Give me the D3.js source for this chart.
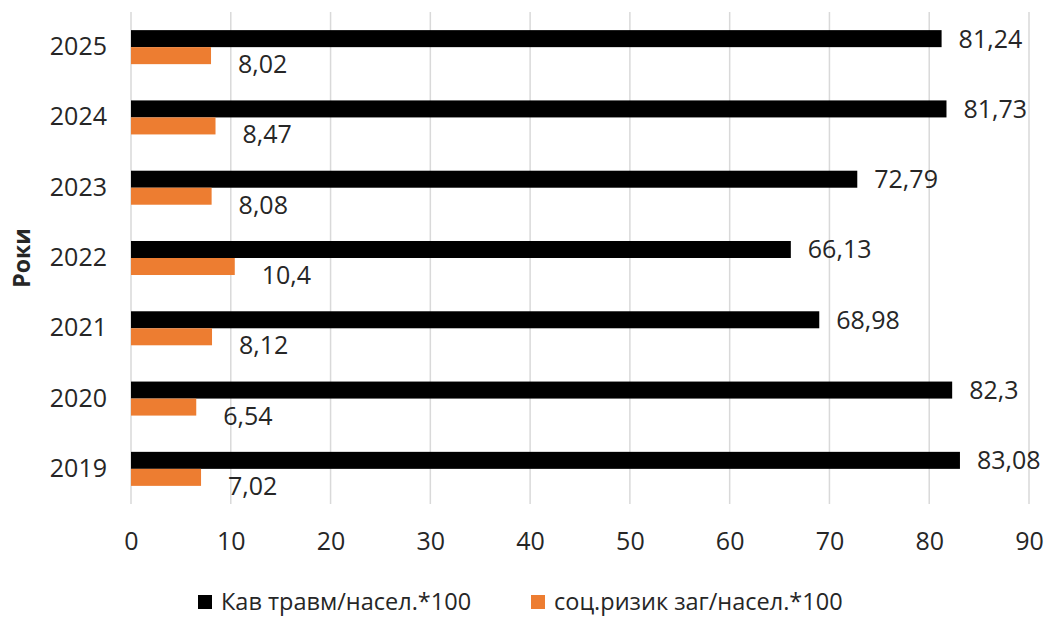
<!DOCTYPE html>
<html><head><meta charset="utf-8">
<script src="https://cdn.jsdelivr.net/npm/d3@7"></script>
<style>body{margin:0;background:#fff}svg{display:block}text{font-family:"Open Sans",sans-serif;fill:#262626}</style>
</head><body>
<svg id="c" width="1054" height="617"></svg>
<script>
const years = ["2025","2024","2023","2022","2021","2020","2019"];
const injuryValues = [81.24, 81.73, 72.79, 66.13, 68.98, 82.3, 83.08];
const riskValues = [8.02, 8.47, 8.08, 10.4, 8.12, 6.54, 7.02];
const seriesNames = ["Кав травм/насел.*100", "соц.ризик заг/насел.*100"];
const seriesColors = ["#000000", "#ED7D31"];
const xTicks = [0,10,20,30,40,50,60,70,80,90];
const yTitle = "Роки";

const svg = d3.select("#c");
const x = d3.scaleLinear().domain([0,90]).range([131,1029]);
const y = d3.scaleBand().domain(years).range([12,504]).padding(0);
const barH = y.bandwidth()*0.242;
const fmt = v => String(v).replace(".", ",");

// gridlines
svg.append("g").selectAll("line").data(xTicks).join("line")
  .attr("x1", d=>x(d)).attr("x2", d=>x(d)).attr("y1", 12).attr("y2", 504)
  .attr("stroke", "#d9d9d9").attr("stroke-width", 1.5);

// x axis labels
const xAxis = d3.axisBottom(x).tickValues(xTicks).tickSize(0).tickPadding(0);
const gx = svg.append("g").attr("transform","translate(0,532)").call(xAxis);
gx.select(".domain").remove();
gx.selectAll("text").attr("font-size", 25).attr("font-family","Open Sans").attr("fill","#262626").attr("dy","0.71em");

// y axis labels
const yAxis = d3.axisLeft(y).tickSize(0).tickPadding(0);
const gy = svg.append("g").attr("transform","translate(107,0)").call(yAxis);
gy.select(".domain").remove();
gy.selectAll("text").attr("font-size", 25).attr("font-family","Open Sans").attr("fill","#262626");

const series = [injuryValues, riskValues];
series.forEach((vals, si) => {
  const g = svg.append("g");
  g.selectAll("rect").data(years).join("rect")
    .attr("x", x(0))
    .attr("y", (d) => y(d) + y.bandwidth()/2 - barH + si*barH)
    .attr("width", (d,i) => x(vals[i]) - x(0))
    .attr("height", barH)
    .attr("fill", seriesColors[si]);
  g.selectAll("text").data(years).join("text")
    .attr("x", (d,i) => x(vals[i]) + (si===0 ? 17 : 27))
    .attr("y", (d) => si===0 ? y(d) + y.bandwidth()/2 - barH/2 : y(d) + y.bandwidth()/2 + barH)
    .attr("dy", "0.36em")
    .attr("font-size", 25)
    .text((d,i) => fmt(vals[i]));
});

// y title
svg.append("text").attr("transform","translate(22,258) rotate(-90)")
  .attr("text-anchor","middle").attr("dy","0.36em")
  .attr("font-size", 23).attr("font-weight","bold").text(yTitle);

// legend
const legendX = [198, 531];
seriesNames.forEach((n,i)=>{
  svg.append("rect").attr("x", legendX[i]).attr("y", 595).attr("width", 14).attr("height", 14).attr("fill", seriesColors[i]);
  svg.append("text").attr("x", legendX[i]+23).attr("y", 610).attr("font-size", 23.5).text(n);
});
</script>
</body></html>
